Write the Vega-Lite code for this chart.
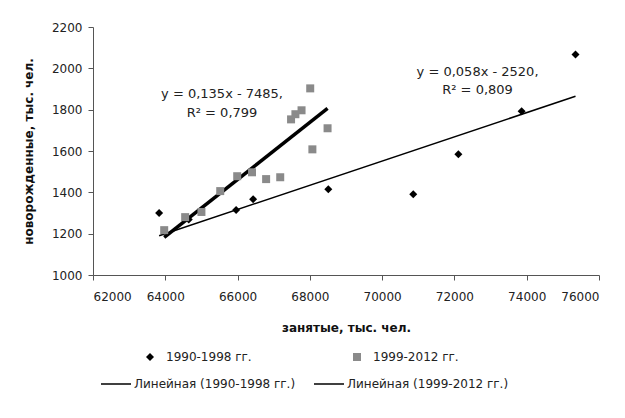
{
  "$schema": "https://vega.github.io/schema/vega-lite/v6.json",
  "width": 506,
  "height": 248,
  "autosize": {"type": "none"},
  "padding": {"left": 93, "top": 27, "right": 26, "bottom": 143},
  "background": "white",
  "config": {
    "font": "DejaVu Sans",
    "view": {"stroke": null},
    "axis": {
      "grid": false,
      "labelFont": "DejaVu Sans",
      "labelFontSize": 12,
      "labelColor": "#222",
      "titleFont": "DejaVu Sans",
      "titleFontSize": 12,
      "titleFontWeight": "bold",
      "titleColor": "#111",
      "domainColor": "#555",
      "tickColor": "#555",
      "tickSize": 5,
      "labelPadding": 8
    },
    "legend": {
      "labelFont": "DejaVu Sans",
      "labelFontSize": 12,
      "labelColor": "#222",
      "labelLimit": 0
    }
  },
  "datasets": {
    "pts": [
      {"x": 75350, "y": 2067, "series": "1990-1998 гг."},
      {"x": 73860, "y": 1792, "series": "1990-1998 гг."},
      {"x": 72110, "y": 1584, "series": "1990-1998 гг."},
      {"x": 70860, "y": 1391, "series": "1990-1998 гг."},
      {"x": 68510, "y": 1415, "series": "1990-1998 гг."},
      {"x": 66430, "y": 1367, "series": "1990-1998 гг."},
      {"x": 65960, "y": 1315, "series": "1990-1998 гг."},
      {"x": 64650, "y": 1268, "series": "1990-1998 гг."},
      {"x": 63830, "y": 1300, "series": "1990-1998 гг."},
      {"x": 63970, "y": 1217, "series": "1999-2012 гг."},
      {"x": 64550, "y": 1280, "series": "1999-2012 гг."},
      {"x": 65000, "y": 1305, "series": "1999-2012 гг."},
      {"x": 65520, "y": 1406, "series": "1999-2012 гг."},
      {"x": 65990, "y": 1478, "series": "1999-2012 гг."},
      {"x": 66400, "y": 1497, "series": "1999-2012 гг."},
      {"x": 66790, "y": 1464, "series": "1999-2012 гг."},
      {"x": 67180, "y": 1473, "series": "1999-2012 гг."},
      {"x": 68070, "y": 1608, "series": "1999-2012 гг."},
      {"x": 68490, "y": 1710, "series": "1999-2012 гг."},
      {"x": 67480, "y": 1753, "series": "1999-2012 гг."},
      {"x": 67600, "y": 1778, "series": "1999-2012 гг."},
      {"x": 67770, "y": 1797, "series": "1999-2012 гг."},
      {"x": 68010, "y": 1903, "series": "1999-2012 гг."}
    ],
    "trend": [
      {"x": 63830, "y": 1190, "trend": "Линейная (1990-1998 гг.)"},
      {"x": 75350, "y": 1865, "trend": "Линейная (1990-1998 гг.)"},
      {"x": 63970, "y": 1182, "trend": "Линейная (1999-2012 гг.)"},
      {"x": 68490, "y": 1806, "trend": "Линейная (1999-2012 гг.)"}
    ],
    "notes": [
      {"x": 65570, "y": 1874, "label": "y = 0,135x - 7485,"},
      {"x": 65570, "y": 1782, "label": "R² = 0,799"},
      {"x": 72640, "y": 1981, "label": "y = 0,058x - 2520,"},
      {"x": 72640, "y": 1893, "label": "R² = 0,809"}
    ]
  },
  "encoding": {
    "x": {
      "field": "x",
      "type": "quantitative",
      "scale": {"domain": [62000, 76000], "nice": false, "zero": false},
      "axis": {
        "title": "занятые, тыс. чел.",
        "values": [62000, 64000, 66000, 68000, 70000, 72000, 74000, 76000],
        "format": "d",
        "labelPadding": 11,
        "titlePadding": 20
      }
    },
    "y": {
      "field": "y",
      "type": "quantitative",
      "scale": {"domain": [1000, 2200], "nice": false, "zero": false},
      "axis": {
        "title": "новорожденные, тыс. чел.",
        "values": [1000, 1200, 1400, 1600, 1800, 2000, 2200],
        "format": "d",
        "labelPadding": 6,
        "titlePadding": 16
      }
    }
  },
  "layer": [
    {
      "data": {"name": "trend"},
      "mark": {"type": "line", "clip": false},
      "encoding": {
        "stroke": {
          "field": "trend",
          "type": "nominal",
          "scale": {"domain": ["Линейная (1990-1998 гг.)", "Линейная (1999-2012 гг.)"], "range": ["black", "black"]},
          "legend": {
            "orient": "none",
            "legendX": 7,
            "legendY": 341,
            "direction": "horizontal",
            "title": null,
            "symbolType": "stroke",
            "symbolSize": 900,
            "symbolStrokeWidth": 1.5,
            "labelOffset": 2,
            "columnPadding": 15
          }
        },
        "strokeWidth": {
          "condition": {"test": "datum.trend === 'Линейная (1999-2012 гг.)'", "value": 3.5},
          "value": 1.5
        }
      }
    },
    {
      "data": {"name": "pts"},
      "mark": {"type": "point", "filled": true, "opacity": 1, "size": 64},
      "encoding": {
        "color": {
          "field": "series",
          "type": "nominal",
          "scale": {"domain": ["1990-1998 гг.", "1999-2012 гг."], "range": ["black", "#8a8a8a"]},
          "legend": {
            "orient": "none",
            "legendX": 51,
            "legendY": 324,
            "direction": "horizontal",
            "title": null,
            "symbolSize": 64,
            "labelOffset": 10,
            "columnPadding": 99
          }
        },
        "shape": {
          "field": "series",
          "type": "nominal",
          "scale": {"domain": ["1990-1998 гг.", "1999-2012 гг."], "range": ["diamond", "square"]}
        }
      }
    },
    {
      "data": {"name": "notes"},
      "mark": {"type": "text", "fontSize": 13, "font": "DejaVu Sans", "color": "#222", "align": "center", "baseline": "middle"},
      "encoding": {"text": {"field": "label"}}
    }
  ]
}
